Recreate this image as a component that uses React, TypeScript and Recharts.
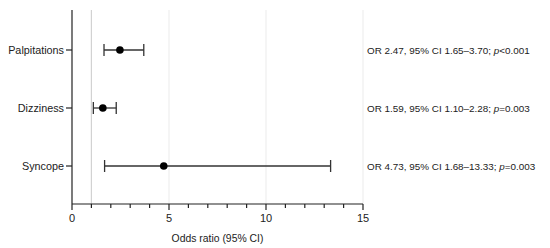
import { ComposedChart, Scatter, ErrorBar, XAxis, YAxis, ReferenceLine } from 'recharts';

const categories = ['Palpitations', 'Dizziness', 'Syncope'];
const oddsRatios = [2.47, 1.59, 4.73];
const ciLow = [1.65, 1.1, 1.68];
const ciHigh = [3.7, 2.28, 13.33];
const pValues = ['<0.001', '=0.003', '=0.003'];
const xTicks = [0, 1, 2, 3, 4, 5, 6, 7, 8, 9, 10, 11, 12, 13, 14, 15];
const gridLines = [5, 10, 15];

const FONT = '"Liberation Sans", Arial, Helvetica, sans-serif';
const FS = 10.4;

const rows = categories.map((name, i) => ({
  name,
  or: oddsRatios[i],
  err: [oddsRatios[i] - ciLow[i], ciHigh[i] - oddsRatios[i]],
}));

const XTick = (props: any) => {
  const { x, y, payload } = props;
  const major = payload.value % 5 === 0;
  return (
    <g>
      <line x1={x} x2={x} y1={y} y2={y + (major ? 6 : 4)} stroke="#222" strokeWidth={1.2} />
      {major && (
        <text x={x} y={y + 18} textAnchor="middle" fontSize={FS + 0.6} fill="#222" fontFamily={FONT}>
          {payload.value}
        </text>
      )}
    </g>
  );
};

const StatTick = (props: any) => {
  const { x, y, payload } = props;
  const i = payload.index;
  return (
    <text x={x} y={y} dy={4} textAnchor="start" fontSize={9.9} fill="#222" fontFamily={FONT}>
      {`OR ${oddsRatios[i].toFixed(2)}, 95% CI ${ciLow[i].toFixed(2)}–${ciHigh[i].toFixed(2)}; `}
      <tspan fontStyle="italic">p</tspan>
      {pValues[i]}
    </text>
  );
};

export default function App() {
  return (
    <div style={{ position: 'absolute', left: 0, top: 0, background: '#fff' }}>
      <ComposedChart
        width={550}
        height={248}
        data={rows}
        layout="vertical"
        margin={{ top: 10, right: 0, left: 0, bottom: 0 }}
      >
        <XAxis
          type="number"
          dataKey="or"
          domain={[0, 15]}
          ticks={xTicks}
          interval={0}
          tickLine={false}
          tickSize={0}
          tickMargin={0}
          tick={<XTick />}
          axisLine={{ stroke: '#222', strokeWidth: 1.2 }}
          height={44}
          label={{ value: 'Odds ratio (95% CI)', position: 'insideBottom', offset: 6, fontSize: FS, fill: '#222', fontFamily: FONT }}
        />
        <YAxis
          yAxisId="left"
          type="category"
          dataKey="name"
          width={72}
          padding={{ top: 40, bottom: 38 }}
          tickSize={6}
          tickMargin={2}
          tickLine={{ stroke: '#222', strokeWidth: 1.2 }}
          axisLine={{ stroke: '#222', strokeWidth: 1.2 }}
          tick={{ fontSize: FS + 0.4, fill: '#222', fontFamily: FONT }}
        />
        <YAxis
          yAxisId="right"
          orientation="right"
          type="category"
          dataKey="name"
          width={187}
          padding={{ top: 40, bottom: 38 }}
          axisLine={false}
          tickLine={false}
          tickSize={0}
          tickMargin={4}
          tick={<StatTick />}
        />
        {gridLines.map((v) => (
          <ReferenceLine key={v} yAxisId="left" x={v} stroke="#ebebeb" strokeWidth={1} />
        ))}
        <ReferenceLine yAxisId="left" x={1} stroke="#d2d2d2" strokeWidth={1.2} />
        <Scatter yAxisId="left" dataKey="or" fill="#000" isAnimationActive={false} shape={(p: any) => <circle cx={p.cx} cy={p.cy} r={3.8} fill="#000" />}>
          <ErrorBar dataKey="err" direction="x" width={6} stroke="#333" strokeWidth={1.3} />
        </Scatter>
      </ComposedChart>
    </div>
  );
}
